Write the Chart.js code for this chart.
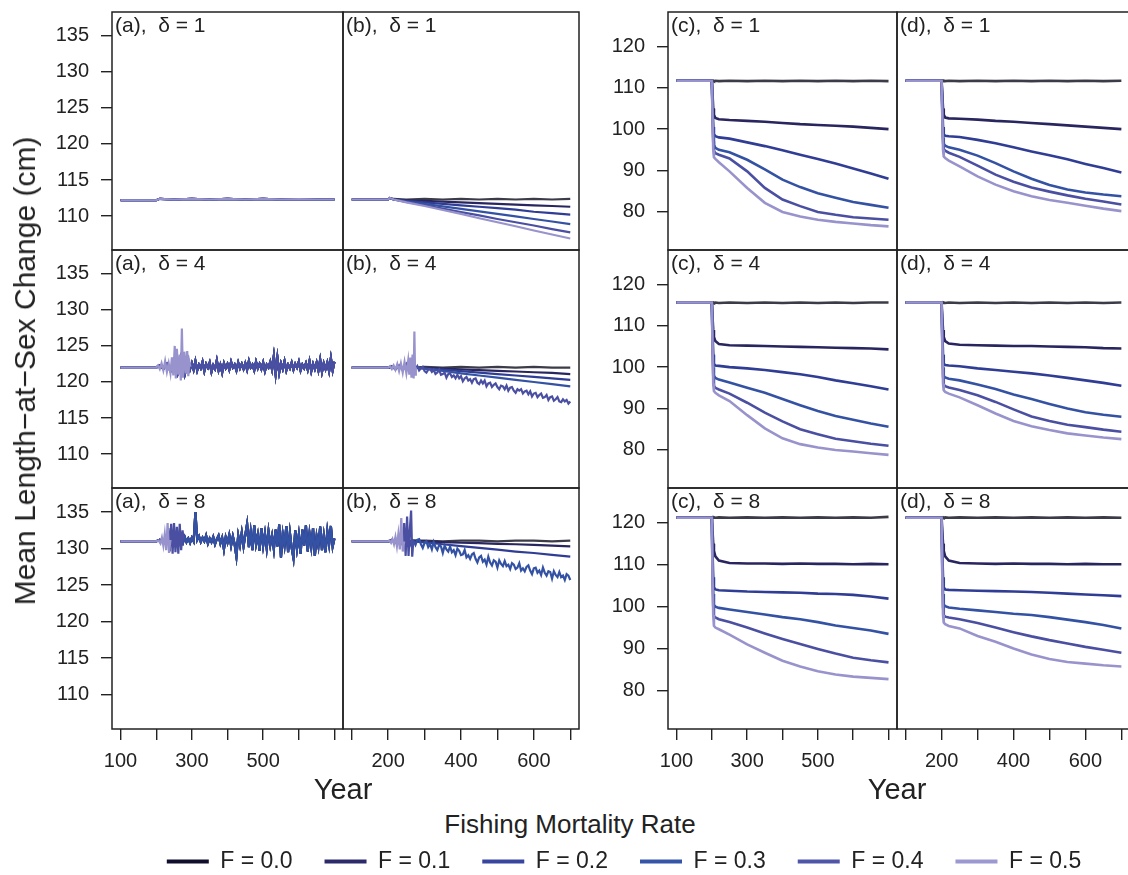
<!DOCTYPE html>
<html><head><meta charset="utf-8">
<script src="https://cdn.jsdelivr.net/npm/chart.js@4.4.1/dist/chart.umd.min.js"></script>
<style>
html,body{margin:0;padding:0;width:1128px;height:875px;overflow:hidden;background:#fff;}
#wrap{position:relative;width:1128px;height:875px;overflow:hidden;}
#wrap canvas{position:absolute;}
.t{position:absolute;font-family:'Liberation Sans',Arial,Helvetica,sans-serif;color:#222;white-space:pre;line-height:1;}
</style></head><body><div id="wrap"></div>
<script>
// ---------- labels / ticks ----------
const seriesLabels = ['F = 0.0','F = 0.1','F = 0.2','F = 0.3','F = 0.4','F = 0.5'];
const lineColors   = ['#3c3c48','#29265f','#303d95','#3452a4','#4a4fa2','#9893cc'];
const legendColors = ['#100e2c','#2c2a6b','#3846a0','#3556a8','#4f56a9','#9c98d0'];
const deltaValues = ['1','4','8'];
const panelLetters = ['a','b','c','d'];
const xTicks = [100,200,300,400,500,600,700];
const xTickLabelsA = ['100','','300','','500','',''];
const xTickLabelsB = ['','200','','400','','600',''];
const leftYTicks = [110,115,120,125,130,135];
const rightYTicks = [80,90,100,110,120];
const xRange = [76,724];
const leftYRange = [105.3,138.3];
const rightYRange = [70.8,128.3];

// ---------- panel (a) / (b), delta = 1 ----------
const a1Years = [100,150,200,210,250,300,350,400,450,500,550,600,650,700];
const a1Vals  = [112.2,112.2,112.2,112.4,112.3,112.4,112.3,112.4,112.3,112.4,112.3,112.35,112.3,112.3];
const b1Years = [100,200,205,210,215,250,300,350,400,450,500,550,600,650,700];
const b1F0 = [112.3,112.3,112.5,112.4,112.4,112.3,112.4,112.3,112.4,112.3,112.4,112.3,112.4,112.3,112.4];
const b1F1 = [112.3,112.3,112.5,112.4,112.3,112.2,112.1,112.0,111.9,111.8,111.7,111.6,111.5,111.4,111.3];
const b1F2 = [112.3,112.3,112.5,112.4,112.3,112.1,111.9,111.7,111.5,111.3,111.1,110.9,110.6,110.4,110.2];
const b1F3 = [112.3,112.3,112.5,112.4,112.3,112.0,111.7,111.35,111.0,110.65,110.3,109.95,109.6,109.25,108.9];
const b1F4 = [112.3,112.3,112.5,112.4,112.3,111.95,111.5,111.05,110.55,110.1,109.6,109.15,108.7,108.2,107.75];
const b1F5 = [112.3,112.3,112.5,112.4,112.3,111.9,111.4,110.85,110.3,109.7,109.15,108.6,108.0,107.45,106.9];

// ---------- panel (a) / (b), delta = 4 ----------
const a4EarlyYears = [100,200,210,220,230,240,250,260,270,280,290];
const a4EarlyVals  = [122.0,122.0,122.3,121.8,122.5,121.5,123.0,121.2,123.5,121.0,123.0];
const a4NoiseStart = 295;
const a4NoiseVals = [121.8,
 122.6,121.7,122.9,121.6,122.4,121.9,122.8,121.5,122.5,122.0,122.7,121.4,122.3,121.8,123.0,121.6,122.4,121.3,122.6,121.9,
 122.5,121.7,122.8,122.0,122.4,121.6,122.7,121.9,122.5,121.8,
 122.6,121.7,122.9,122.0,122.4,121.6,122.8,121.9,122.5,121.8,
 122.7,121.5,122.4,122.0,122.8,121.7,123.6,121.1,123.4,121.3,
 122.6,121.8,122.9,121.6,122.4,121.9,122.7,121.7,122.5,122.0,
 122.8,121.6,122.4,121.9,122.6,121.7,122.9,121.5,122.5,121.8,
 122.7,121.6,123.1,121.4,122.6,121.8,122.7,121.5,123.3,121.6,122.8];
const a4F5Years = [100,200,205,210,215,220,225,230,235,240,244,248,252,255,258,262,266,269,272,275,279,283,287,290,293,296];
const a4F5Vals  = [122.0,122.0,122.3,121.8,122.6,121.6,122.9,121.4,122.6,121.2,123.4,120.9,125.0,120.5,124.6,121.0,123.8,120.2,127.4,120.6,124.2,121.2,124.3,120.8,122.8,122.1];

const b4Years = [100,200,210,220,230,240,250,260,270,276,300,350,400,450,500,550,600,650,700];
const b4F0 = [122.0,122.0,122.1,121.9,122.1,121.9,122.1,121.9,122.1,122.0,122.1,122.0,122.1,122.0,122.1,122.0,122.1,122.0,122.0];
const b4F1 = [122.0,122.0,122.1,121.9,122.1,121.9,122.1,121.9,122.1,122.0,121.95,121.85,121.75,121.65,121.55,121.45,121.35,121.25,121.1];
const b4F2 = [122.0,122.0,122.1,121.9,122.1,121.9,122.1,121.9,122.1,122.0,121.9,121.7,121.5,121.3,121.1,120.9,120.7,120.5,120.3];
const b4F3 = [122.0,122.0,122.1,121.9,122.1,121.9,122.1,121.9,122.1,122.0,121.85,121.55,121.2,120.9,120.6,120.3,120.0,119.7,119.4];
const b4F4EarlyYears = [100,200,210,220,230,240,250,260,270,276];
const b4F4EarlyVals  = [122.0,122.0,122.2,121.7,122.3,121.6,122.5,121.4,122.6,121.9];
const b4F4NoiseStart = 280;
const b4F4NoiseVals = [
 122.2,121.6,121.9,122.1,121.5,121.3,121.7,121.8,121.4,121.7,
 121.1,121.3,121.7,121.0,121.1,121.3,120.6,121.1,121.2,120.7,
 120.9,120.5,121.0,120.5,120.8,120.1,120.5,120.7,120.2,120.4,
 119.9,120.4,120.5,119.9,119.7,120.2,119.8,120.2,119.4,119.8,
 119.9,119.3,119.6,119.8,119.3,119.0,119.5,119.4,119.0,119.5,
 118.8,119.2,119.3,118.8,118.5,119.0,118.8,119.0,118.4,118.7,
 118.8,118.3,118.7,118.0,118.4,118.5,117.9,118.2,118.4,117.8,
 117.9,118.2,117.5,117.9,118.0,117.4,117.6,117.9,117.3,117.2,
 117.6,117.3,117.5,117.0,117.3];
const b4F5Years = [100,200,205,210,215,220,225,230,235,240,245,250,255,258,261,264,267,270,272,274,276];
const b4F5Vals  = [122.0,122.0,122.2,121.8,122.3,121.7,122.5,121.5,122.6,121.3,122.8,121.2,123.0,121.0,123.4,120.6,123.8,120.5,127.0,121.0,122.0];

// ---------- panel (a) / (b), delta = 8 ----------
const a8EarlyYears = [100,200,210,220,230,240,250,260,270,275];
const a8EarlyVals  = [131.0,131.0,131.2,130.8,131.3,130.6,131.4,130.5,131.5,130.8];
const a8NoiseStart = 280;
const a8NoiseVals = [
 131.6,130.9,131.4,130.8,131.5,131.0,135.0,131.2,131.7,130.9,
 131.5,131.0,131.8,130.7,131.4,130.9,131.6,130.6,131.3,131.8,
 130.7,131.5,129.9,131.6,130.8,131.9,130.4,131.7,130.6,128.9,
 131.8,130.5,132.2,130.3,131.9,133.4,130.2,132.3,129.8,133.2,
 130.6,131.9,129.7,132.8,130.4,132.1,130.0,132.4,130.5,131.8,
 129.9,132.6,130.3,133.3,128.8,132.0,130.4,133.1,129.5,132.2,
 130.1,128.7,132.5,130.0,131.9,129.3,132.6,130.4,133.2,129.6,
 132.1,130.2,132.8,129.0,131.7,130.3,133.0,129.8,131.8,129.5,
 132.4,130.6,133.1,130.3,131.4];
const a8F4Years = [100,200,210,220,230,234,238,242,246,250,254,258,262,266,270,274,277];
const a8F4Vals  = [131.0,131.0,131.2,130.8,131.3,132.8,129.6,133.4,129.3,133.5,129.5,133.0,129.3,133.4,129.8,132.5,131.2];
const a8F5Years = [100,200,207,212,216,220,224,228,232,236,240];
const a8F5Vals  = [131.0,131.0,131.1,130.7,131.5,130.4,132.0,129.8,133.5,129.4,131.2];

const b8Years = [100,200,210,220,230,240,250,260,270,300,350,400,450,500,550,600,650,700];
const b8F0 = [131.0,131.0,131.1,130.9,131.1,130.9,131.1,131.0,131.1,131.1,131.0,131.1,131.1,131.0,131.1,131.1,131.0,131.1];
const b8F1 = [131.0,131.0,131.1,130.9,131.1,130.9,131.1,131.0,131.1,131.0,130.9,130.8,130.75,130.65,130.6,130.5,130.4,130.3];
const b8F2 = [131.0,131.0,131.1,130.9,131.1,130.9,131.1,131.0,131.0,130.85,130.6,130.35,130.1,129.85,129.6,129.4,129.15,128.9];
const b8F3EarlyYears = [100,200,210,220,230,240,250,260,265];
const b8F3EarlyVals  = [131.0,131.0,131.2,130.8,131.3,130.6,131.4,130.5,131.2];
const b8F3NoiseStart = 270;
const b8F3NoiseVals = [
 131.0,130.5,131.2,131.3,130.6,130.1,130.8,131.0,130.2,130.6,
 129.9,130.9,130.2,129.8,130.5,130.3,129.4,130.4,129.9,129.6,
 130.3,129.5,129.8,129.1,130.0,129.7,129.1,129.2,129.8,128.8,
 129.1,128.6,129.2,129.4,128.6,128.1,128.8,129.0,128.2,128.5,
 127.8,128.9,128.1,127.7,128.4,128.2,127.4,128.4,127.9,127.6,
 128.3,127.6,127.8,127.2,128.0,127.8,127.2,127.4,128.0,127.0,
 127.3,126.9,127.5,127.7,127.0,126.5,127.3,127.4,126.7,127.0,
 126.4,127.4,126.7,126.3,126.9,126.8,125.9,126.9,126.4,126.1,
 126.8,126.1,126.3,125.7,126.5,126.3,125.7];
const b8F4Years = [100,200,210,220,230,240,244,248,252,256,260,263,266,269];
const b8F4Vals  = [131.0,131.0,131.2,130.8,131.4,130.5,133.5,129.0,134.4,129.0,133.0,135.2,128.9,131.0];
const b8F5Years = [100,200,204,208,212,216,220,224,228,232,236,240,244];
const b8F5Vals  = [131.0,131.0,131.1,130.8,131.3,130.6,131.6,130.3,132.0,129.9,134.2,129.6,131.0];

// ---------- panels (c) / (d) ----------
const cdYears = [100,200,202,204,206,210,220,250,300,350,400,450,500,550,600,650,700];
const c1F0 = [111.7,111.7,111.6,111.7,111.6,111.7,111.6,111.7,111.6,111.7,111.6,111.7,111.6,111.7,111.6,111.7,111.6];
const c1F1 = [111.7,111.7,108.5,105.0,103.5,102.7,102.4,102.2,102.0,101.8,101.5,101.2,101.0,100.8,100.6,100.3,100.0];
const c1F2 = [111.7,111.7,106.0,100.5,98.8,98.3,98.0,97.7,96.8,95.9,94.9,93.8,92.8,91.7,90.5,89.3,88.0];
const c1F3 = [111.7,111.7,105.0,98.0,96.2,95.5,95.0,94.4,92.6,90.3,87.8,86.0,84.5,83.4,82.4,81.7,81.0];
const c1F4 = [111.7,111.7,104.0,97.0,94.8,94.2,93.8,92.9,89.8,85.8,83.0,81.4,80.0,79.3,78.7,78.4,78.1];
const c1F5 = [111.7,111.7,103.0,95.0,93.2,92.8,92.0,89.8,85.8,82.2,80.0,78.9,78.1,77.6,77.2,76.8,76.5];
const d1F0 = [111.7,111.7,111.7,111.6,111.7,111.6,111.7,111.6,111.7,111.6,111.7,111.6,111.7,111.6,111.7,111.6,111.7];
const d1F1 = [111.7,111.7,108.5,105.0,103.5,102.8,102.6,102.5,102.3,102.0,101.8,101.5,101.2,100.9,100.6,100.3,100.0];
const d1F2 = [111.7,111.7,106.0,100.5,98.8,98.4,98.3,98.1,97.4,96.6,95.6,94.6,93.7,92.7,91.6,90.6,89.5];
const d1F3 = [111.7,111.7,105.0,98.0,96.5,96.0,95.6,95.0,93.6,91.8,89.8,88.0,86.5,85.4,84.7,84.2,83.8];
const d1F4 = [111.7,111.7,104.0,97.0,95.2,94.8,94.3,93.3,91.2,89.0,87.3,85.9,84.9,84.0,83.2,82.5,81.8];
const d1F5 = [111.7,111.7,103.0,95.0,93.4,93.0,92.4,91.0,88.6,86.6,85.0,83.8,82.9,82.2,81.5,80.8,80.2];

const c4F0 = [115.6,115.6,115.5,115.6,115.5,115.6,115.5,115.6,115.5,115.6,115.5,115.6,115.5,115.6,115.5,115.6,115.6];
const c4F1 = [115.6,115.6,112.0,109.0,107.3,106.3,105.6,105.3,105.2,105.1,105.0,104.9,104.8,104.7,104.6,104.5,104.3];
const c4F2 = [115.6,115.6,109.0,103.0,100.8,100.4,100.3,100.0,99.7,99.3,98.8,98.3,97.6,96.8,96.1,95.4,94.6];
const c4F3 = [115.6,115.6,107.0,100.0,97.9,97.4,97.0,96.3,95.0,93.8,92.3,90.8,89.4,88.2,87.3,86.4,85.6];
const c4F4 = [115.6,115.6,106.0,98.0,95.5,95.0,94.6,93.6,91.4,89.0,86.9,85.0,83.8,82.7,82.1,81.5,81.0];
const c4F5 = [115.6,115.6,105.0,96.0,94.2,93.8,93.2,91.8,88.4,85.2,82.8,81.4,80.6,80.0,79.6,79.2,78.8];
const d4F0 = [115.6,115.6,115.6,115.5,115.6,115.5,115.6,115.5,115.6,115.5,115.6,115.5,115.6,115.5,115.6,115.5,115.6];
const d4F1 = [115.6,115.6,112.0,109.0,107.3,106.3,105.7,105.4,105.3,105.2,105.1,105.1,105.0,104.9,104.8,104.6,104.5];
const d4F2 = [115.6,115.6,109.0,103.0,100.8,100.5,100.4,100.2,99.7,99.3,98.9,98.5,98.0,97.4,96.8,96.2,95.5];
const d4F3 = [115.6,115.6,107.0,100.0,97.9,97.5,97.2,96.8,95.8,94.7,93.4,92.3,91.1,90.0,89.1,88.5,88.0];
const d4F4 = [115.6,115.6,106.0,98.0,95.8,95.4,95.1,94.5,93.2,91.6,89.8,88.1,87.0,86.1,85.5,84.9,84.4];
const d4F5 = [115.6,115.6,105.0,96.0,94.4,94.0,93.6,92.7,90.8,88.8,87.0,85.7,84.8,84.0,83.5,83.0,82.6];

const c8F0 = [121.2,121.2,121.3,121.2,121.3,121.2,121.3,121.2,121.3,121.2,121.3,121.2,121.3,121.2,121.3,121.2,121.4];
const c8F1 = [121.2,121.2,118.0,115.0,113.3,112.0,111.0,110.4,110.3,110.3,110.2,110.3,110.2,110.2,110.1,110.2,110.1];
const c8F2 = [121.2,121.2,113.0,107.0,104.6,104.1,103.9,103.8,103.6,103.5,103.4,103.3,103.1,103.0,102.8,102.4,101.9];
const c8F3 = [121.2,121.2,110.0,103.0,100.4,100.0,99.7,99.3,98.7,98.1,97.5,97.0,96.3,95.5,94.9,94.3,93.5];
const c8F4 = [121.2,121.2,108.0,100.0,97.8,97.4,97.0,96.3,95.0,93.6,92.3,91.1,89.9,88.8,87.8,87.2,86.7];
const c8F5 = [121.2,121.2,107.0,98.0,95.4,95.0,94.6,93.3,91.0,89.0,87.1,85.7,84.6,83.8,83.3,83.0,82.7];
const d8F0 = [121.2,121.2,121.2,121.3,121.2,121.3,121.2,121.3,121.2,121.3,121.2,121.3,121.2,121.3,121.2,121.3,121.2];
const d8F1 = [121.2,121.2,118.0,115.0,113.3,112.0,111.0,110.4,110.3,110.2,110.3,110.2,110.2,110.1,110.2,110.1,110.1];
const d8F2 = [121.2,121.2,113.0,107.0,104.6,104.1,104.0,103.9,103.8,103.7,103.6,103.5,103.3,103.1,102.9,102.7,102.5];
const d8F3 = [121.2,121.2,110.0,103.0,100.5,100.1,99.8,99.5,99.1,98.7,98.3,98.0,97.5,96.9,96.3,95.6,94.8];
const d8F4 = [121.2,121.2,108.0,100.0,98.0,97.6,97.4,97.0,96.1,95.0,93.9,92.9,92.0,91.2,90.4,89.7,89.0];
const d8F5 = [121.2,121.2,107.0,98.0,96.2,95.8,95.4,94.8,93.0,91.6,90.0,88.6,87.5,86.8,86.4,86.0,85.7];

// ---------- helpers to build point tables ----------
function pts(years, vals){ return vals.map((v,i)=>({x:years[i], y:v})); }
function noisy(ey, ev, start, step, nv){ return pts(ey, ev).concat(nv.map((v,i)=>({x:start+i*step, y:v}))); }

const a1 = pts(a1Years, a1Vals);
const a4Base = noisy(a4EarlyYears, a4EarlyVals, a4NoiseStart, 5, a4NoiseVals);
const a8Base = noisy(a8EarlyYears, a8EarlyVals, a8NoiseStart, 5, a8NoiseVals);
const panelSeries = {
  a: [
    [a1,a1,a1,a1,a1,a1],
    [a4Base,a4Base,a4Base,a4Base,a4Base,pts(a4F5Years,a4F5Vals)],
    [a8Base,a8Base,a8Base,a8Base,pts(a8F4Years,a8F4Vals),pts(a8F5Years,a8F5Vals)]
  ],
  b: [
    [b1F0,b1F1,b1F2,b1F3,b1F4,b1F5].map(v=>pts(b1Years,v)),
    [pts(b4Years,b4F0),pts(b4Years,b4F1),pts(b4Years,b4F2),pts(b4Years,b4F3),
     noisy(b4F4EarlyYears,b4F4EarlyVals,b4F4NoiseStart,5,b4F4NoiseVals),pts(b4F5Years,b4F5Vals)],
    [pts(b8Years,b8F0),pts(b8Years,b8F1),pts(b8Years,b8F2),
     noisy(b8F3EarlyYears,b8F3EarlyVals,b8F3NoiseStart,5,b8F3NoiseVals),pts(b8F4Years,b8F4Vals),pts(b8F5Years,b8F5Vals)]
  ],
  c: [
    [c1F0,c1F1,c1F2,c1F3,c1F4,c1F5].map(v=>pts(cdYears,v)),
    [c4F0,c4F1,c4F2,c4F3,c4F4,c4F5].map(v=>pts(cdYears,v)),
    [c8F0,c8F1,c8F2,c8F3,c8F4,c8F5].map(v=>pts(cdYears,v))
  ],
  d: [
    [d1F0,d1F1,d1F2,d1F3,d1F4,d1F5].map(v=>pts(cdYears,v)),
    [d4F0,d4F1,d4F2,d4F3,d4F4,d4F5].map(v=>pts(cdYears,v)),
    [d8F0,d8F1,d8F2,d8F3,d8F4,d8F5].map(v=>pts(cdYears,v))
  ]
};

// ---------- layout ----------
const FONT = "'Liberation Sans', Arial, Helvetica, sans-serif";
const colLayout = {
  a:{x:112,w:231,labeled:true, xl:xTickLabelsA, yt:leftYTicks, yr:leftYRange, lw:2.2},
  b:{x:343,w:236,labeled:false,xl:xTickLabelsB, yt:leftYTicks, yr:leftYRange, lw:2.2},
  c:{x:668,w:229,labeled:true, xl:xTickLabelsA, yt:rightYTicks, yr:rightYRange, lw:2.6},
  d:{x:897,w:233,labeled:false,xl:xTickLabelsB, yt:rightYTicks, yr:rightYRange, lw:2.6}
};
const rowLayout = [{y:12,h:238},{y:250,h:238},{y:488,h:241}];
const AXW = 100, AXH = 62, M = 4;
const wrap = document.getElementById('wrap');

const framePlugin = {
  id:'frame',
  afterDatasetsDraw(chart){
    const {ctx, chartArea:a} = chart;
    ctx.save(); ctx.strokeStyle = '#222'; ctx.lineWidth = 1.5;
    ctx.strokeRect(a.left, a.top, a.right-a.left, a.bottom-a.top);
    ctx.restore();
  }
};

function addText(txt, css){
  const d = document.createElement('div'); d.className = 't'; d.textContent = txt;
  Object.assign(d.style, css); wrap.appendChild(d); return d;
}

panelLetters.forEach(col=>{
  const C = colLayout[col];
  rowLayout.forEach((R, ri)=>{
    const bottom = ri === 2;
    const extL = C.labeled ? AXW : M;
    const extB = bottom ? AXH : M;
    const cv = document.createElement('canvas');
    cv.width = C.w + extL + M; cv.height = R.h + M + extB;
    cv.style.left = (C.x - extL) + 'px'; cv.style.top = (R.y - M) + 'px';
    cv.style.width = cv.width + 'px'; cv.style.height = cv.height + 'px';
    wrap.appendChild(cv);
    const series = panelSeries[col][ri];
    const datasets = series.map((data, k)=>({
      label: seriesLabels[k], data, borderColor: lineColors[k], backgroundColor: lineColors[k],
      borderWidth: C.lw, pointRadius: 0, tension: 0, fill: false, order: 5 - k
    }));
    new Chart(cv, {
      type:'line',
      data:{datasets},
      options:{
        responsive:false, animation:false, devicePixelRatio:1,
        layout:{padding:{left: C.labeled?0:M, top:M, right:M, bottom: bottom?0:M}},
        plugins:{legend:{display:false}, tooltip:{enabled:false}},
        scales:{
          x:{type:'linear', min:xRange[0], max:xRange[1], display:bottom,
             afterBuildTicks:s=>{ s.ticks = xTicks.map(v=>({value:v})); },
             afterFit:s=>{ s.height = bottom ? AXH : 0; s.paddingLeft = 0; s.paddingRight = 0; },
             ticks:{autoSkip:false, maxRotation:0, minRotation:0, padding:9, color:'#222',
                    font:{family:FONT, size:20},
                    callback:(v)=>{ const i = xTicks.indexOf(v); return i>=0 ? C.xl[i] : ''; }},
             grid:{drawOnChartArea:false, drawTicks:true, tickLength:11, color:'#222', lineWidth:1.4},
             border:{display:false}},
          y:{type:'linear', min:C.yr[0], max:C.yr[1], display:C.labeled,
             afterBuildTicks:s=>{ s.ticks = C.yt.map(v=>({value:v})); },
             afterFit:s=>{ s.width = C.labeled ? AXW : 0; s.paddingTop = 0; s.paddingBottom = 0; },
             ticks:{padding:12, color:'#222', font:{family:FONT, size:20}},
             grid:{drawOnChartArea:false, drawTicks:true, tickLength:11, color:'#222', lineWidth:1.4},
             border:{display:false}}
        }
      },
      plugins:[framePlugin]
    });
    addText('(' + col + '),  \u03B4 = ' + deltaValues[ri],
            {left:(C.x+3)+'px', top:(R.y+2)+'px', fontSize:'21px'});
  });
});

// ---------- axis titles ----------
addText('Year', {left:'343px', top:'775px', fontSize:'29px', transform:'translateX(-50%)'});
addText('Year', {left:'897px', top:'775px', fontSize:'29px', transform:'translateX(-50%)'});
addText('Fishing Mortality Rate', {left:'570px', top:'811px', fontSize:'26px', transform:'translateX(-50%)'});
addText('Mean Length\u2212at\u2212Sex Change (cm)',
        {left:'25px', top:'371px', fontSize:'30px', transform:'translate(-50%,-50%) rotate(-90deg)'});

// ---------- legend ----------
const lg = document.createElement('canvas');
lg.width = 1000; lg.height = 110;
lg.style.left = '124px'; lg.style.top = '818px'; lg.style.width = '1000px'; lg.style.height = '110px';
wrap.appendChild(lg);
new Chart(lg, {
  type:'line',
  data:{datasets: seriesLabels.map((l,i)=>({label:l, data:[], borderColor:legendColors[i], backgroundColor:legendColors[i]}))},
  options:{
    responsive:false, animation:false, devicePixelRatio:1,
    layout:{padding:0},
    scales:{x:{display:false}, y:{display:false}},
    plugins:{
      tooltip:{enabled:false},
      legend:{display:true, position:'top', align:'center',
        labels:{boxWidth:42, boxHeight:4, padding:32, color:'#222', font:{family:FONT, size:23},
          generateLabels: ch => ch.data.datasets.map((d,i)=>({text:d.label, fillStyle:d.borderColor,
             strokeStyle:d.borderColor, lineWidth:0, hidden:false, datasetIndex:i, fontColor:'#222'}))}}
    }
  }
});
</script></body></html>
